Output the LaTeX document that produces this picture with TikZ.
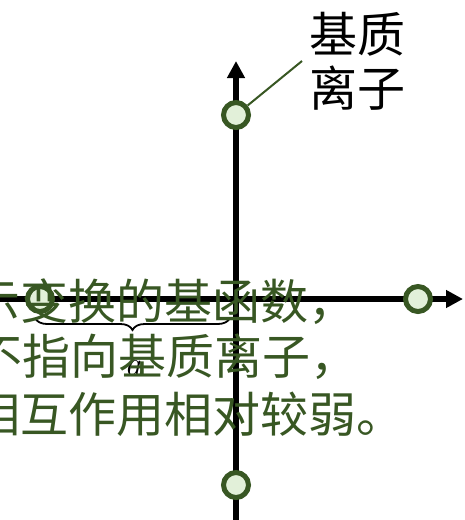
\documentclass[tikz,border=0pt]{standalone}
\usepackage{fontspec}
\newfontfamily\cjk{Noto Sans CJK SC}
\usetikzlibrary{arrows.meta,decorations.pathreplacing}
\definecolor{dkgreen}{HTML}{385723}
\definecolor{ltgreen}{HTML}{E2F0D9}
\tikzset{
  axis/.style={line width=5.5pt,-{Triangle[length=17pt,width=17pt]}},
  ion/.style={circle,draw=dkgreen,fill=ltgreen,line width=5pt,minimum size=25pt,inner sep=0pt},
  greentxt/.style={text=dkgreen,font=\cjk\fontsize{48}{56}\selectfont,inner sep=0pt,anchor=base west},
  blacktxt/.style={text=black,font=\cjk\fontsize{48}{54}\selectfont,inner sep=0pt,anchor=base west},
}
\begin{document}
\begin{tikzpicture}[x=1pt,y=-1pt]
\useasboundingbox (0,0) rectangle (464,520);
\clip (0,0) rectangle (464,520);
\coordinate (ybot) at (236,525);
\coordinate (ytop) at (236,61);
\coordinate (xleft) at (-5,299);
\coordinate (xright) at (463,299);
\draw[axis] (ybot) -- (ytop);
\draw[axis] (xleft) -- (xright);
\node[ion] (top) at (236,115) {};
\node[ion] (right) at (418,299) {};
\node[ion] (bottom) at (236,485) {};
\node[ion] (left) at (40,299) {};
\coordinate (lead) at (302,61);
\draw[dkgreen,line width=2pt] (top) -- (lead);
\node[blacktxt] (lab1) at (309,52) {基质};
\node[blacktxt] (lab2) at (309,106) {离子};
\coordinate (bl) at (35,318);
\coordinate (br) at (230,318);
\draw[black,line width=1.8pt,decorate,decoration={brace,mirror,amplitude=12pt}] (bl) -- (br);
\node[font=\itshape\fontsize{34}{38}\selectfont,inner sep=0pt,anchor=base] (a) at (133,375) {a};
\node[greentxt] (g1) at (-28,319) {示变换的基函数，};
\node[greentxt] (g2) at (-26,374) {不指向基质离子，};
\node[greentxt] (g3) at (-28,432) {相互作用相对较弱。};
\end{tikzpicture}
\end{document}
